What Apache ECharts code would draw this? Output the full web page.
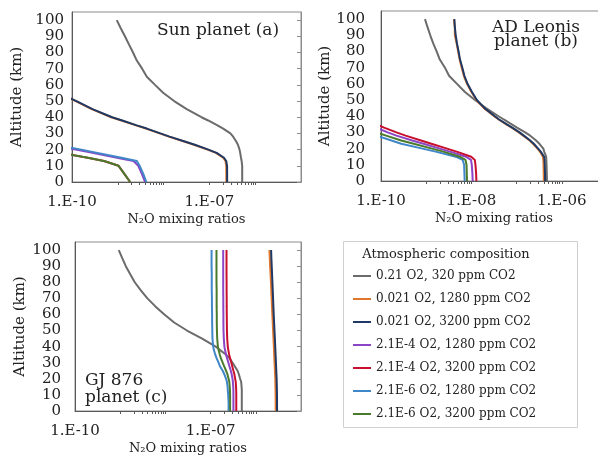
<!DOCTYPE html>
<html>
<head>
<meta charset="utf-8">
<script src="https://cdn.jsdelivr.net/npm/echarts@6/dist/echarts.min.js"></script>
<style>
  html, body { margin: 0; padding: 0; background: #fff; }
  #chart { width: 598px; height: 456px; }
</style>
</head>
<body>
<div id="chart"></div>
<script>
// altitude grid (km) shared by every profile
const altitude = [0, 5, 10, 13, 15, 18, 20, 23, 25, 28, 30, 33, 35, 38, 40, 45, 50, 55, 60, 65, 70, 75, 80, 85, 90, 95, 100];

const names = [
  "0.21 O2, 320 ppm CO2",
  "0.021 O2, 1280 ppm CO2",
  "0.021 O2, 3200 ppm CO2",
  "2.1E-4 O2, 1280 ppm CO2",
  "2.1E-4 O2, 3200 ppm CO2",
  "2.1E-6 O2, 1280 ppm CO2",
  "2.1E-6 O2, 3200 ppm CO2"
];
const colors = ["#6b6b6b", "#e0772c", "#1f3864", "#8b45c6", "#c8102e", "#3f87c8", "#4a7a2c"];

// (a) Sun planet
const aGray = [5.2e-7, 5.2e-7, 5.2e-7, 5.05e-7, 4.9e-7, 4.7e-7, 4.55e-7, 4.2e-7, 3.85e-7, 3.3e-7, 2.87e-7, 2.0e-7, 1.5e-7, 9.4e-8, 6.7e-8, 3.2e-8, 1.7e-8, 9.9e-9, 6.5e-9, 4.3e-9, 3.4e-9, 2.6e-9, 2.15e-9, 1.75e-9, 1.43e-9, 1.16e-9, 9.5e-10];
const aOrange = [2.34e-7, 2.34e-7, 2.33e-7, 2.24e-7, 2.0e-7, 1.38e-7, 9.1e-8, 4.6e-8, 2.8e-8, 1.3e-8, 8.2e-9, 4.1e-9, 2.5e-9, 1.2e-9, 7.2e-10, 2.7e-10, 1.2e-10, 5e-11, null, null, null, null, null, null, null, null, null];
const aNavy = [2.44e-7, 2.44e-7, 2.43e-7, 2.33e-7, 2.08e-7, 1.44e-7, 9.5e-8, 4.8e-8, 2.9e-8, 1.35e-8, 8.5e-9, 4.3e-9, 2.6e-9, 1.25e-9, 7.5e-10, 2.8e-10, 1.25e-10, 5.2e-11, null, null, null, null, null, null, null, null, null];
const aPurple = [3.95e-9, 3.35e-9, 2.8e-9, 2.2e-9, 9.6e-10, 2.8e-10, 1.2e-10, 3e-11, null, null, null, null, null, null, null, null, null, null, null, null, null, null, null, null, null, null, null];
const aRed = [1.86e-9, 1.39e-9, 1.04e-9, 5.0e-10, 2.2e-10, 5.6e-11, null, null, null, null, null, null, null, null, null, null, null, null, null, null, null, null, null, null, null, null, null];
const aBlue = [4.2e-9, 3.6e-9, 3.0e-9, 2.6e-9, 1.2e-9, 3.6e-10, 1.6e-10, 4e-11, null, null, null, null, null, null, null, null, null, null, null, null, null, null, null, null, null, null, null];
const aGreen = [1.86e-9, 1.39e-9, 1.04e-9, 5.0e-10, 2.2e-10, 5.6e-11, null, null, null, null, null, null, null, null, null, null, null, null, null, null, null, null, null, null, null, null, null];

// (b) AD Leonis planet
const bGray = [4.7e-7, 4.65e-7, 4.6e-7, 4.55e-7, 4.5e-7, 4.1e-7, 3.9e-7, 3.2e-7, 2.7e-7, 2.0e-7, 1.55e-7, 1.02e-7, 7.8e-8, 5.2e-8, 4.0e-8, 2.1e-8, 1.2e-8, 7.2e-9, 4.8e-9, 3.2e-9, 2.6e-9, 2.0e-9, 1.7e-9, 1.43e-9, 1.23e-9, 1.07e-9, 9.4e-10];
const bOrange = [4.0e-7, 3.98e-7, 3.95e-7, 3.9e-7, 3.8e-7, 3.3e-7, 2.9e-7, 2.3e-7, 1.94e-7, 1.4e-7, 1.12e-7, 7.8e-8, 5.9e-8, 4.0e-8, 3.2e-8, 1.9e-8, 1.29e-8, 1.0e-8, 8.0e-9, 6.8e-9, 6.1e-9, 5.5e-9, 5.1e-9, 4.7e-9, 4.3e-9, 4.3e-9, 4.1e-9];
const bNavy = [4.27e-7, 4.25e-7, 4.2e-7, 4.15e-7, 4.05e-7, 3.45e-7, 3.0e-7, 2.4e-7, 2.0e-7, 1.45e-7, 1.16e-7, 8.0e-8, 6.1e-8, 4.1e-8, 3.3e-8, 1.95e-8, 1.32e-8, 1.03e-8, 8.2e-9, 7.0e-9, 6.3e-9, 5.6e-9, 5.2e-9, 4.8e-9, 4.5e-9, 4.3e-9, 4.2e-9];
const bPurple = [1.07e-8, 1.05e-8, 1.02e-8, 9.8e-9, 7.6e-9, 3.5e-9, 2.0e-9, 8.7e-10, 4.9e-10, 2.2e-10, 1.4e-10, 8e-11, null, null, null, null, null, null, null, null, null, null, null, null, null, null, null];
const bRed = [1.29e-8, 1.27e-8, 1.23e-8, 1.19e-8, 9.9e-9, 4.9e-9, 2.9e-9, 1.3e-9, 7.7e-10, 3.5e-10, 2.2e-10, 1.17e-10, 8e-11, null, null, null, null, null, null, null, null, null, null, null, null, null, null];
const bBlue = [7.1e-9, 7.0e-9, 6.9e-9, 6.4e-9, 4.5e-9, 1.7e-9, 8.3e-10, 2.8e-10, 1.7e-10, 8e-11, null, null, null, null, null, null, null, null, null, null, null, null, null, null, null, null, null];
const bGreen = [8.0e-9, 7.9e-9, 7.8e-9, 7.4e-9, 5.5e-9, 2.5e-9, 1.35e-9, 5.3e-10, 2.8e-10, 1.3e-10, 8e-11, null, null, null, null, null, null, null, null, null, null, null, null, null, null, null, null];

// (c) GJ 876 planet
const cGray = [4.9e-7, 4.9e-7, 4.9e-7, 4.9e-7, 4.85e-7, 4.75e-7, 4.5e-7, 4.2e-7, 3.95e-7, 3.4e-7, 3.06e-7, 2.6e-7, 2.2e-7, 1.6e-7, 1.3e-7, 6.5e-8, 3.0e-8, 1.56e-8, 9.5e-9, 6.0e-9, 4.0e-9, 2.86e-9, 2.1e-9, 1.67e-9, 1.33e-9, 1.11e-9, 9.3e-10];
const cOrange = [2.75e-6, 2.75e-6, 2.74e-6, 2.73e-6, 2.72e-6, 2.71e-6, 2.7e-6, 2.67e-6, 2.65e-6, 2.62e-6, 2.6e-6, 2.57e-6, 2.55e-6, 2.53e-6, 2.51e-6, 2.46e-6, 2.41e-6, 2.37e-6, 2.32e-6, 2.28e-6, 2.24e-6, 2.2e-6, 2.16e-6, 2.12e-6, 2.07e-6, 2.04e-6, 2.0e-6];
const cNavy = [2.95e-6, 2.95e-6, 2.94e-6, 2.93e-6, 2.92e-6, 2.9e-6, 2.89e-6, 2.86e-6, 2.84e-6, 2.81e-6, 2.79e-6, 2.76e-6, 2.74e-6, 2.71e-6, 2.69e-6, 2.64e-6, 2.59e-6, 2.54e-6, 2.49e-6, 2.45e-6, 2.41e-6, 2.37e-6, 2.33e-6, 2.29e-6, 2.25e-6, 2.21e-6, 2.18e-6];
const cPurple = [3.2e-7, 3.2e-7, 3.2e-7, 3.19e-7, 3.17e-7, 3.12e-7, 3.05e-7, 2.92e-7, 2.8e-7, 2.6e-7, 2.48e-7, 2.3e-7, 2.2e-7, 2.08e-7, 2.02e-7, 1.96e-7, 1.93e-7, 1.92e-7, 1.92e-7, 1.91e-7, 1.91e-7, 1.9e-7, 1.9e-7, 1.9e-7, 1.9e-7, 1.9e-7, 1.9e-7];
const cRed = [3.7e-7, 3.7e-7, 3.7e-7, 3.68e-7, 3.66e-7, 3.6e-7, 3.5e-7, 3.35e-7, 3.2e-7, 3.0e-7, 2.88e-7, 2.68e-7, 2.58e-7, 2.46e-7, 2.4e-7, 2.33e-7, 2.3e-7, 2.29e-7, 2.28e-7, 2.27e-7, 2.27e-7, 2.26e-7, 2.26e-7, 2.25e-7, 2.25e-7, 2.25e-7, 2.25e-7];
const cBlue = [2.5e-7, 2.5e-7, 2.45e-7, 2.4e-7, 2.38e-7, 2.3e-7, 2.2e-7, 2.0e-7, 1.85e-7, 1.6e-7, 1.5e-7, 1.35e-7, 1.27e-7, 1.18e-7, 1.14e-7, 1.1e-7, 1.09e-7, 1.08e-7, 1.08e-7, 1.07e-7, 1.07e-7, 1.06e-7, 1.06e-7, 1.06e-7, 1.05e-7, 1.05e-7, 1.05e-7];
const cGreen = [2.7e-7, 2.7e-7, 2.7e-7, 2.68e-7, 2.65e-7, 2.6e-7, 2.5e-7, 2.35e-7, 2.2e-7, 1.98e-7, 1.85e-7, 1.68e-7, 1.6e-7, 1.5e-7, 1.45e-7, 1.4e-7, 1.38e-7, 1.37e-7, 1.37e-7, 1.36e-7, 1.36e-7, 1.36e-7, 1.35e-7, 1.35e-7, 1.35e-7, 1.35e-7, 1.35e-7];

const panels = [
  [aGray, aOrange, aNavy, aPurple, aRed, aBlue, aGreen],
  [bGray, bOrange, bNavy, bPurple, bRed, bBlue, bGreen],
  [cGray, cOrange, cNavy, cPurple, cRed, cBlue, cGreen]
];

// axis ticks
const yTicks = [0, 10, 20, 30, 40, 50, 60, 70, 80, 90, 100];
const labelStep = [3, 2, 3];          // decades between x labels
const minorDecades = [-9, -7];        // decades carrying minor ticks
const minorMult = [1, 2, 3, 4, 5, 6, 7, 8, 9, 10];

const FONT = '"DejaVu Serif", serif';
const TXT = "#222";
const AXIS = "#595959";
const FRAME = "#8c8c8c";

const grids = [
  { left: 72, top: 12, width: 229, height: 170 },
  { left: 381, top: 11, width: 226, height: 170 },
  { left: 75, top: 242, width: 226, height: 169 }
];
const yLabelMargin = [8, 16, 14];

function pts(vals) {
  const out = [];
  vals.forEach((v, i) => { if (v !== null) out.push([v, altitude[i]]); });
  return out;
}
function expLabel(v) {
  const e = Math.round(Math.log10(v));
  const a = Math.abs(e);
  return "1.E" + (e < 0 ? "-" : "+") + (a < 10 ? "0" : "") + a;
}

const minorTicks = [];
minorDecades.forEach(d => minorMult.forEach(k => minorTicks.push(d + Math.log10(k))));

const xAxis = [], yAxis = [], series = [];
grids.forEach((g, i) => {
  xAxis.push({
    type: "log", gridIndex: i, position: "bottom", logBase: 10,
    min: 1e-10, max: 1e-5, interval: labelStep[i],
    axisLine: { show: true, lineStyle: { color: AXIS, width: 1 } },
    axisTick: { show: false },
    splitLine: { show: false },
    minorTick: { show: false },
    axisLabel: { formatter: expLabel, fontFamily: FONT, fontSize: 15, color: TXT, margin: 13, showMaxLabel: false },
    name: "N\u2082O mixing ratios", nameLocation: "middle", nameGap: 31,
    nameTextStyle: { fontFamily: FONT, fontSize: 13, color: TXT }
  });
  yAxis.push({
    type: "value", gridIndex: i, position: "left", min: 0, max: 105, interval: 10,
    axisLine: { show: true, lineStyle: { color: AXIS, width: 1 } },
    axisTick: { show: false },
    splitLine: { show: false },
    axisLabel: { fontFamily: FONT, fontSize: 15, color: TXT, margin: yLabelMargin[i], showMaxLabel: false },
    name: "Altitude (km)", nameLocation: "middle", nameGap: 47,
    nameTextStyle: { fontFamily: FONT, fontSize: 15, color: TXT }
  });
});
grids.forEach((g, i) => {
  // helper axis in log10 units: only draws the small x ticks
  xAxis.push({
    type: "value", gridIndex: i, position: "bottom", min: -10, max: -5,
    axisLine: { show: false },
    axisLabel: { show: false },
    splitLine: { show: false },
    axisTick: { show: true, customValues: minorTicks, length: 3, lineStyle: { color: AXIS } }
  });
  // right frame with inward ticks
  yAxis.push({
    type: "value", gridIndex: i, position: "right", min: 0, max: 105, interval: 10,
    axisLine: { show: true, lineStyle: { color: FRAME, width: 1 } },
    axisTick: { show: true, inside: true, length: 4, customValues: yTicks, lineStyle: { color: FRAME } },
    axisLabel: { show: false },
    splitLine: { show: false }
  });
  panels[i].forEach((vals, s) => {
    series.push({
      type: "line", name: names[s], xAxisIndex: i, yAxisIndex: i,
      data: pts(vals), symbol: "none", clip: true,
      lineStyle: { color: colors[s], width: 2 },
      itemStyle: { color: colors[s] },
      emphasis: { disabled: true }
    });
  });
});

function label(text, x, y, align) {
  return {
    type: "text", x: x, y: y, z: 10,
    style: { text: text, font: '17px "DejaVu Serif"', fill: TXT, align: align, textAlign: align, verticalAlign: "middle", textVerticalAlign: "middle" }
  };
}

const chart = echarts.init(document.getElementById("chart"), null, { renderer: "canvas" });
chart.setOption({
  animation: false,
  backgroundColor: "#fff",
  grid: grids.map(g => Object.assign({ show: true, borderColor: FRAME, borderWidth: 1, backgroundColor: "transparent", outerBoundsMode: "none", containLabel: false }, g)),
  xAxis: xAxis,
  yAxis: yAxis,
  series: series,
  legend: {
    orient: "vertical", left: 353, top: 269, padding: 0,
    icon: "rect", itemWidth: 18, itemHeight: 2, itemGap: 9, selectedMode: false,
    textStyle: { fontFamily: FONT, fontSize: 12, color: TXT, lineHeight: 14 },
    data: names
  },
  graphic: [
    { type: "rect", shape: { x: 343.5, y: 241.5, width: 234, height: 186 }, style: { fill: "none", stroke: "#d0d0d0", lineWidth: 1 } },
    { type: "text", x: 446, y: 255, style: { text: "Atmospheric composition", font: '13px "DejaVu Serif"', fill: TXT, align: "center", textAlign: "center", verticalAlign: "middle", textVerticalAlign: "middle" } },
    label("Sun planet (a)", 157, 31, "left"),
    label("AD Leonis", 536, 28, "center"),
    label("planet (b)", 536, 42, "center"),
    label("GJ 876", 85, 381, "left"),
    label("planet (c)", 85, 398, "left")
  ]
});
</script>
</body>
</html>
